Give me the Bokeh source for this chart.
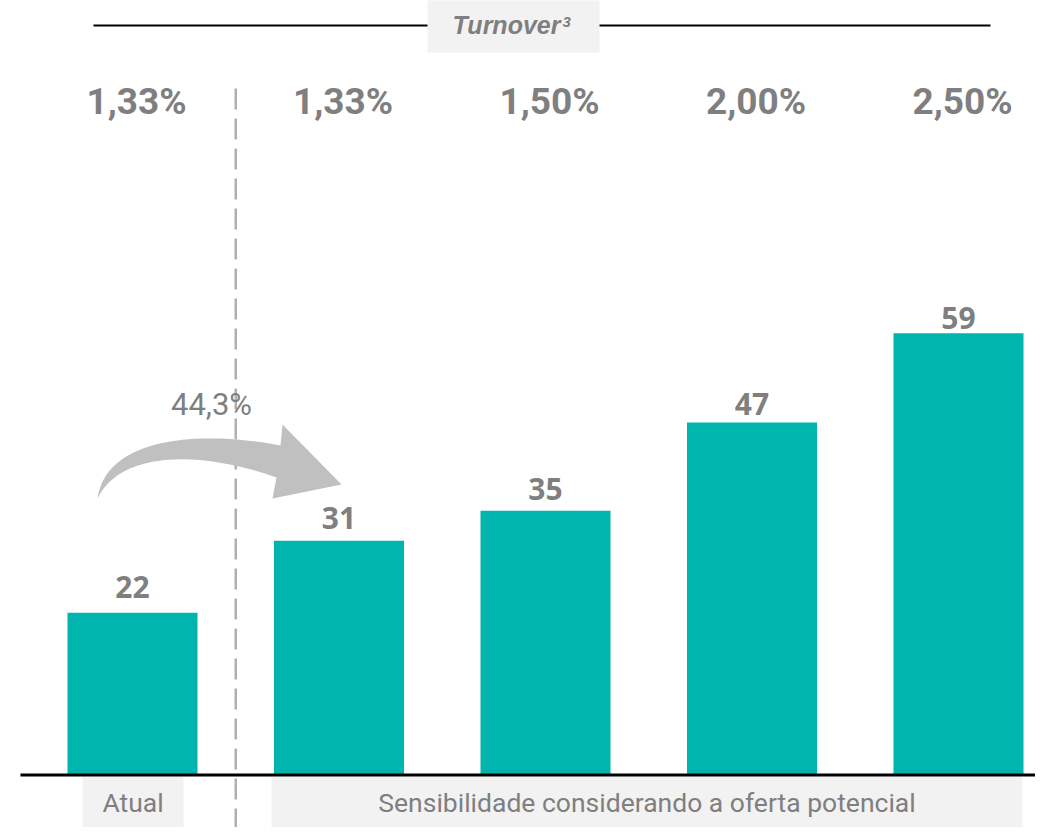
import numpy as np
from bokeh.plotting import figure
from bokeh.models import Range1d, ColumnDataSource
from bokeh.core.properties import value
from bokeh.embed import file_html
from bokeh.resources import INLINE

# ---------------- data ----------------
categories = ["Atual", "Cenário 1", "Cenário 2", "Cenário 3", "Cenário 4"]
turnover_labels = ["1,33%", "1,33%", "1,50%", "2,00%", "2,50%"]
values = [21.6, 31.2, 35.2, 47.0, 58.9]
value_labels = ["22", "31", "35", "47", "59"]
growth_label = "44,3%"
group_labels = ["Atual", "Sensibilidade considerando a oferta potencial"]
title_text = "Turnover"
title_sup = "3"

# ---------------- layout helpers ----------------
W, H = 1035, 827
OX, OY = 0, 0           # page position of the figure's top-left corner
X0, XS = 132.0, 206.5   # px of first bar centre, px per category
Y0, YS = 774.0, 7.49    # px of zero line, px per unit


def px2x(px):
    return (px - X0) / XS


def px2y(py):
    return (Y0 - py) / YS


def base(py, size):
    # alphabetic baseline correction for svg text
    return px2y(py - 0.33 * size)


def label_gap(v):
    # gap (px) between bar top and value label, as in the original layout
    return 16 - 0.28 * (v - values[0])


GRAY_TXT = "#7f7f7f"
BOX = "#f2f2f2"
TEAL = "#00b5ad"

p = figure(width=W, height=H,
           x_range=Range1d(px2x(OX), px2x(OX + W)),
           y_range=Range1d(px2y(OY + H), px2y(OY)),
           output_backend="svg", toolbar_location=None,
           x_axis_location=None, y_axis_location=None,
           min_border=0)
p.grid.visible = False
p.outline_line_color = None
p.background_fill_color = "white"
p.border_fill_color = "white"

xs = list(range(len(categories)))

# label boxes
p.quad(left=[px2x(427), px2x(82), px2x(271)],
       right=[px2x(599), px2x(183), px2x(1022)],
       top=[px2y(-2), px2y(776), px2y(776)],
       bottom=[px2y(52), px2y(828), px2y(828)],
       fill_color=BOX, line_color=None)

# title rules
p.segment(x0=[px2x(93), px2x(599)], y0=[px2y(25)] * 2,
          x1=[px2x(427), px2x(990)], y1=[px2y(25)] * 2,
          line_color="black", line_width=2)

# title text
p.text(x=[px2x(506)], y=[base(33, 25)], text=[title_text],
       text_font=value("Liberation Sans"), text_font_style="bold italic",
       text_font_size="25px", text_color=GRAY_TXT,
       text_align="center", text_baseline="alphabetic")
p.text(x=[px2x(562)], y=[base(26, 15)], text=[title_sup],
       text_font=value("Liberation Sans"), text_font_style="bold italic",
       text_font_size="15px", text_color=GRAY_TXT,
       text_align="left", text_baseline="alphabetic")

# turnover percentages
p.text(x=xs, y=[base(113, 37)] * len(xs), text=turnover_labels,
       text_font=value("Roboto"), text_font_style="bold",
       text_font_size="37px", text_color=GRAY_TXT,
       text_align="center", text_baseline="alphabetic", x_offset=4)

# dashed separator
p.segment(x0=[0.5], y0=[px2y(88)], x1=[0.5], y1=[px2y(840)],
          line_color="#b0b0b0", line_width=2.5, line_dash="21 9")

# bars
src = ColumnDataSource(dict(x=xs, top=values, lab=value_labels,
                            ly=[v + (label_gap(v) + 0.33 * 30) / YS for v in values]))
p.vbar(x="x", top="top", bottom=0, width=130 / XS, source=src,
       fill_color=TEAL, line_color=None)
p.text(x="x", y="ly", text="lab", source=src,
       text_font=value("Open Sans"), text_font_style="bold",
       text_font_size="30px", text_color=GRAY_TXT,
       text_align="center", text_baseline="alphabetic")

# baseline
p.segment(x0=[px2x(20)], y0=[px2y(774.5)], x1=[px2x(1050)], y1=[px2y(774.5)],
          line_color="black", line_width=3)

# group labels
p.text(x=[px2x(132.5), px2x(646.5)], y=[base(811, 26.5)] * 2, text=group_labels,
       text_font=value("Roboto"), text_font_size="26.5px", text_color=GRAY_TXT,
       text_align="center", text_baseline="alphabetic")


# curved arrow
def bez(p0, p1, p2, p3, n=40):
    t = np.linspace(0, 1, n)[:, None]
    a = np.array
    return ((1 - t) ** 3) * a(p0) + 3 * ((1 - t) ** 2) * t * a(p1) + 3 * (1 - t) * t ** 2 * a(p2) + t ** 3 * a(p3)


A = (97, 498)
B = (280, 445)
C = (276, 477)
upper = bez(A, (105, 440), (190, 428), B)
lower = bez(C, (200, 450), (120, 450), A)
head = np.array([(282, 424), (341, 484), (272, 498)])
poly = np.vstack([upper, head, lower])
p.patch(x=[px2x(v) for v in poly[:, 0]], y=[px2y(v) for v in poly[:, 1]],
        fill_color="#c0c0c0", line_color=None)

p.text(x=[px2x(211)], y=[base(414, 31)], text=[growth_label],
       text_font=value("Roboto"), text_font_size="31px", text_color=GRAY_TXT,
       text_align="center", text_baseline="alphabetic")

open("out.html", "w").write(file_html(p, INLINE))
